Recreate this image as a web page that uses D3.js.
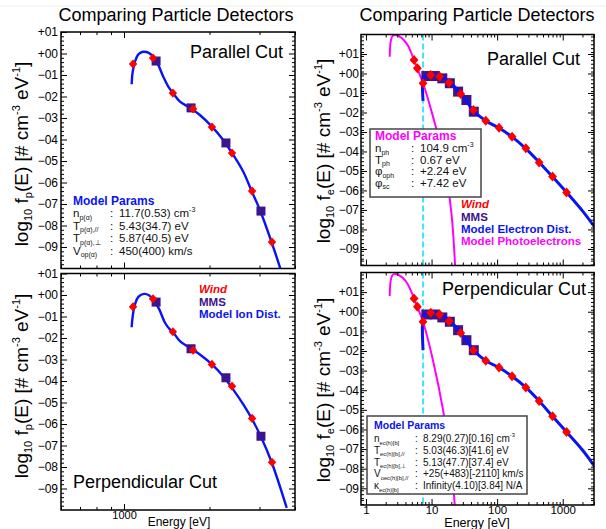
<!DOCTYPE html>
<html>
<head>
<meta charset="utf-8">
<script src="https://cdn.jsdelivr.net/npm/d3@7"></script>
<style>
  body { margin: 0; background: #fff; }
  svg { font-family: "Liberation Sans", Arial, Helvetica, sans-serif; }
</style>
</head>
<body>
<svg id="chart" width="606" height="529"></svg>
<script>
// ---- data (energies in eV, values are log10 f(E)) ----
var yLabelsIon = ["+01","+00","\u221201","\u221202","\u221203","\u221204","\u221205","\u221206","\u221207","\u221208","\u221209"];
var yMajorIon = [1,0,-1,-2,-3,-4,-5,-6,-7,-8,-9];
var yLabelsElec = ["+01","+00","\u221201","\u221202","\u221203","\u221204","\u221205","\u221206","\u221207","\u221208","\u221209"];
var yMajorElec = [1,0,-1,-2,-3,-4,-5,-6,-7,-8,-9];
var xTicksIon = [1000];
var xTickLabelsIon = ["1000"];
var xMinorIon = [600,700,800,900,2000,3000,4000];
var xTicksElec = [1,10,100,1000];
var xTickLabelsElec = ["1","10","100","1000"];
var xMinorElec = [2,3,4,5,6,7,8,9,20,30,40,50,60,70,80,90,200,300,400,500,600,700,800,900,2000,3000];

// ions
var windIonE = [1076,1265,1486,1750,2040,2400,2825,3320];
var windIonPar = [-0.49,-0.21,-1.84,-2.58,-3.42,-4.63,-6.40,-8.77];
var windIonPerp = [-0.55,-0.18,-1.71,-2.57,-3.23,-4.24,-5.74,-7.78];
var mmsIonE = [1297,1722,2285,3035];
var mmsIonPar = [-0.35,-2.53,-4.16,-7.33];
var mmsIonPerp = [-0.33,-2.50,-3.85,-6.57];
var ionCurveParE = [1064,1073,1093,1123,1169,1218,1268,1320,1375,1432,1484,1574,1706,1850,2040,2235,2425,2630,2815,3010,3310,3520,3600];
var ionCurveParV = [-1.43,-0.85,-0.38,-0.04,0.08,0.04,-0.15,-0.53,-1.08,-1.54,-1.82,-2.24,-2.52,-2.86,-3.40,-4.02,-4.72,-5.50,-6.40,-7.28,-8.78,-9.84,-10.25];
var ionCurvePerpE = [1064,1073,1093,1123,1176,1227,1275,1331,1394,1451,1484,1574,1706,1850,2040,2235,2425,2630,2815,3029,3310,3740];
var ionCurvePerpV = [-1.50,-0.99,-0.44,-0.09,0.05,-0.02,-0.24,-0.67,-1.29,-1.60,-1.71,-2.15,-2.46,-2.77,-3.23,-3.78,-4.40,-5.09,-5.74,-6.57,-7.78,-9.90];

// electrons
var windElecE = [5.41,6.08,7.42,9.71,13.3,18.5,27.9,43.5,67.1,107,169,274,437,700,1145];
var windElecPar = [0.69,0.27,-0.50,-0.08,-0.16,-0.47,-1.05,-1.87,-2.42,-2.78,-3.24,-3.84,-4.56,-5.29,-6.11];
var windElecPerp = [0.68,0.25,-0.51,-0.05,-0.14,-0.48,-1.08,-1.96,-2.50,-2.84,-3.29,-3.86,-4.55,-5.33,-6.13];
var mmsElecE = [8.33,11.2,14.6,19.0,25.4,34.0,44.1];
var mmsElecPar = [-0.13,-0.13,-0.25,-0.50,-0.93,-1.36,-1.96];
var mmsElecPerp = [-0.14,-0.14,-0.29,-0.51,-0.94,-1.45,-1.96];
var elecCurveE = [7.42,7.42,8.0,9.0,10,12,15,19,25,33,44,67,107,169,274,437,700,1145,2000,3100];
var elecCurveParV = [-1.40,-0.30,-0.15,-0.08,-0.06,-0.10,-0.22,-0.45,-0.85,-1.35,-1.92,-2.42,-2.80,-3.25,-3.85,-4.55,-5.30,-6.10,-7.05,-7.90];
var elecCurvePerpV = [-1.96,-0.33,-0.12,-0.05,-0.04,-0.08,-0.20,-0.47,-0.88,-1.40,-1.96,-2.50,-2.84,-3.29,-3.86,-4.55,-5.33,-6.13,-7.05,-7.91];
var photoE = [2.30,2.33,2.40,2.55,2.75,3.0,3.3,3.67,4.38,5.41,6.08,7.42,10.5,15.0,20.1,22.6,23.2];
var photoParV = [0.86,1.30,1.70,1.93,1.98,1.95,1.88,1.76,1.42,0.69,0.25,-0.50,-2.20,-4.27,-7.17,-9.56,-10.40];
var photoPerpV = [0.80,1.25,1.65,1.88,1.93,1.90,1.83,1.72,1.38,0.68,0.25,-0.51,-2.47,-5.02,-7.91,-9.87,-10.50];
var scPotential = 7.42;

// parameter boxes
var ionParamSym = ["n","T","T","V"];
var ionParamSub = ["p(\u03b1)","p(\u03b1),//","p(\u03b1),\u22a5","op(\u03b1)"];
var ionParamVal = ["11.7(0.53) cm","5.43(34.7) eV","5.87(40.5) eV","450(400) km/s"];
var ionParamSup = ["-3","","",""];
var photoParamSym = ["n","T","\u03c6","\u03c6"];
var photoParamSub = ["ph","ph","oph","sc"];
var photoParamVal = ["104.9 cm","0.67 eV","+2.24 eV","+7.42 eV"];
var photoParamSup = ["-3","","",""];
var elecParamSym = ["n","T","T","V","\u03ba"];
var elecParamSub = ["ec(h)[b]","ec(h)[b],//","ec(h)[b],\u22a5","oec(h)[b],//","ec(h)[b]"];
var elecParamVal = ["8.29(0.27)[0.16] cm","5.03(46.3)[41.6] eV","5.13(47.7)[37.4] eV","+25(+483)[-2110] km/s","Infinity(4.10)[3.84] N/A"];
var elecParamSup = ["-3","","","",""];

// ---- drawing ----
var svg = d3.select("#chart");
var RED = "#ff0000", MMS = "#3c148e", BLUE = "#0a14f0", MAG = "#ff00ff", CYAN = "#3fe6f5";
var clipId = 0;

svg.append("line").attr("x1",0).attr("x2",606).attr("y1",6).attr("y2",6)
  .attr("stroke","#ececec").attr("stroke-width",1);

function range(a, b, s) {
  var out = [];
  for (var v = a; v <= b + 1e-9; v += s) {
    var r = Math.round(v * 10) / 10;
    if (Math.abs(r - Math.round(r)) > 1e-6) out.push(r);
  }
  return out;
}

function makePanel(p) {
  var x = d3.scaleLog().domain(p.xDomain).range([p.x0, p.x1]);
  var y = d3.scaleLinear().domain(p.yDomain).range([p.y1, p.y0]);
  var g = svg.append("g");
  var id = "clip" + (clipId++);
  g.append("clipPath").attr("id", id).append("rect")
    .attr("x", p.x0).attr("y", p.y0).attr("width", p.x1 - p.x0).attr("height", p.y1 - p.y0);
  var plot = g.append("g").attr("clip-path", "url(#" + id + ")");
  return {x: x, y: y, g: g, plot: plot, p: p};
}

function styleAxis(a, fs) {
  a.select(".domain").remove();
  a.selectAll("line").attr("stroke", "#000").attr("stroke-width", 1);
  a.selectAll("text").attr("font-size", fs).attr("fill", "#000")
    .attr("font-family", "Liberation Sans, Arial, sans-serif");
}

function drawAxes(P, opt) {
  var p = P.p, x = P.x, y = P.y, g = P.g;
  var yMinor = range(p.yDomain[0], p.yDomain[1], 0.2);
  // left
  g.append("g").attr("transform", "translate(" + p.x0 + ",0)")
    .call(d3.axisLeft(y).tickValues(opt.yMajor).tickSize(-6).tickPadding(opt.yPad)
      .tickFormat(function(d){ return opt.yLabels[opt.yMajor.indexOf(d)]; }))
    .call(function(a){ styleAxis(a, 12); });
  g.append("g").attr("transform", "translate(" + p.x0 + ",0)")
    .call(d3.axisLeft(y).tickValues(yMinor).tickSize(-3).tickFormat(""))
    .call(function(a){ styleAxis(a, 12); });
  // right
  g.append("g").attr("transform", "translate(" + p.x1 + ",0)")
    .call(d3.axisRight(y).tickValues(opt.yMajor).tickSize(-6).tickFormat(""))
    .call(function(a){ styleAxis(a, 12); });
  g.append("g").attr("transform", "translate(" + p.x1 + ",0)")
    .call(d3.axisRight(y).tickValues(yMinor).tickSize(-3).tickFormat(""))
    .call(function(a){ styleAxis(a, 12); });
  // bottom
  g.append("g").attr("transform", "translate(0," + p.y1 + ")")
    .call(d3.axisBottom(x).tickValues(opt.xMajor).tickSize(-6).tickPadding(opt.xPad)
      .tickFormat(function(d){ return opt.showX ? opt.xLabels[opt.xMajor.indexOf(d)] : ""; }))
    .call(function(a){ styleAxis(a, opt.xFont); });
  g.append("g").attr("transform", "translate(0," + p.y1 + ")")
    .call(d3.axisBottom(x).tickValues(opt.xMinor).tickSize(-3).tickFormat(""))
    .call(function(a){ styleAxis(a, 12); });
  // top
  g.append("g").attr("transform", "translate(0," + p.y0 + ")")
    .call(d3.axisTop(x).tickValues(opt.xMajor).tickSize(-6).tickFormat(""))
    .call(function(a){ styleAxis(a, 12); });
  g.append("g").attr("transform", "translate(0," + p.y0 + ")")
    .call(d3.axisTop(x).tickValues(opt.xMinor).tickSize(-3).tickFormat(""))
    .call(function(a){ styleAxis(a, 12); });
  g.append("rect").attr("x", p.x0).attr("y", p.y0)
    .attr("width", p.x1 - p.x0).attr("height", p.y1 - p.y0)
    .attr("fill", "none").attr("stroke", "#000").attr("stroke-width", 1.5);
}

function drawCurve(P, es, vs, color, width) {
  var line = d3.line().x(function(d){ return P.x(d[0]); }).y(function(d){ return P.y(d[1]); })
    .curve(d3.curveCatmullRom.alpha(0.5));
  P.plot.append("path").datum(d3.zip(es, vs)).attr("d", line)
    .attr("fill", "none").attr("stroke", color).attr("stroke-width", width)
    .attr("stroke-linejoin", "round").attr("stroke-linecap", "butt");
}

function drawSquares(P, es, vs, s) {
  P.plot.selectAll(null).data(d3.zip(es, vs)).join("rect")
    .attr("x", function(d){ return P.x(d[0]) - s / 2; })
    .attr("y", function(d){ return P.y(d[1]) - s / 2; })
    .attr("width", s).attr("height", s).attr("fill", MMS);
}

function drawDiamonds(P, es, vs, w, h) {
  P.plot.selectAll(null).data(d3.zip(es, vs)).join("path")
    .attr("d", "M0," + (-h) + "L" + w + ",0L0," + h + "L" + (-w) + ",0Z")
    .attr("transform", function(d){ return "translate(" + P.x(d[0]) + "," + P.y(d[1]) + ")"; })
    .attr("fill", RED);
}

function yTitle(cx, cy, sub) {
  var t = svg.append("text").attr("transform", "translate(" + cx + "," + cy + ") rotate(-90)")
    .attr("text-anchor", "middle").attr("font-size", 19).attr("fill", "#000");
  t.append("tspan").text("log");
  t.append("tspan").attr("font-size", 11).attr("dy", 4).text("10");
  t.append("tspan").attr("dy", -4).text(" f");
  t.append("tspan").attr("font-size", 11).attr("dy", 4).text(sub);
  t.append("tspan").attr("dy", -4).text("(E) [# cm");
  t.append("tspan").attr("font-size", 11).attr("dy", -8).text("-3");
  t.append("tspan").attr("dy", 8).text(" eV");
  t.append("tspan").attr("font-size", 11).attr("dy", -8).text("-1");
  t.append("tspan").attr("dy", 8).text("]");
}

function label(x, y, txt, o) {
  o = o || {};
  return svg.append("text").attr("x", x).attr("y", y).text(txt)
    .attr("font-size", o.fs || 12).attr("fill", o.fill || "#000")
    .attr("font-weight", o.bold ? "bold" : "normal")
    .attr("font-style", o.italic ? "italic" : "normal")
    .attr("text-anchor", o.anchor || "start");
}

function paramRows(sym, sub, val, sup, o) {
  for (var i = 0; i < sym.length; i++) {
    var yy = o.y + i * o.dy;
    var t = svg.append("text").attr("x", o.x).attr("y", yy).attr("font-size", o.fs).attr("fill", "#111");
    t.append("tspan").text(sym[i]);
    t.append("tspan").attr("font-size", o.subFs).attr("dy", 2.5).text(sub[i]);
    label(o.colon, yy, ":", {fs: o.fs, fill: "#111"});
    var v = svg.append("text").attr("x", o.val).attr("y", yy).attr("font-size", o.fs).attr("fill", "#111");
    v.append("tspan").text(val[i]);
    if (sup[i]) v.append("tspan").attr("font-size", o.subFs).attr("dy", -5).text(sup[i]);
  }
}

// ---- panels ----
var ionOpt = {yMajor: yMajorIon, yLabels: yLabelsIon, yPad: 3, xMajor: xTicksIon, xLabels: xTickLabelsIon,
  xMinor: xMinorIon, xPad: 1.5, xFont: 11};
var elecOpt = {yMajor: yMajorElec, yLabels: yLabelsElec, yPad: 2, xMajor: xTicksElec, xLabels: xTickLabelsElec,
  xMinor: xMinorElec, xPad: 1, xFont: 11.5};

// top-left: ions parallel
var TL = makePanel({x0: 61, x1: 295, y0: 32, y1: 268.5, xDomain: [600, 4000], yDomain: [-10, 1]});
drawCurve(TL, ionCurveParE, ionCurveParV, BLUE, 2.4);
drawSquares(TL, mmsIonE, mmsIonPar, 9);
drawDiamonds(TL, windIonE, windIonPar, 4.2, 4.6);
drawAxes(TL, Object.assign({}, ionOpt, {showX: false}));

// bottom-left: ions perpendicular
var BL = makePanel({x0: 61, x1: 295, y0: 273.5, y1: 510, xDomain: [600, 4000], yDomain: [-10, 1]});
drawCurve(BL, ionCurvePerpE, ionCurvePerpV, BLUE, 2.4);
drawSquares(BL, mmsIonE, mmsIonPerp, 9);
drawDiamonds(BL, windIonE, windIonPerp, 4.2, 4.6);
drawAxes(BL, Object.assign({}, ionOpt, {showX: true}));

// top-right: electrons parallel
var TR = makePanel({x0: 361, x1: 594, y0: 34.5, y1: 265.5, xDomain: [0.84, 3000], yDomain: [-9.85, 2]});
TR.plot.append("line").attr("x1", TR.x(scPotential)).attr("x2", TR.x(scPotential))
  .attr("y1", TR.p.y0).attr("y2", TR.p.y1).attr("stroke", CYAN).attr("stroke-width", 2)
  .attr("stroke-dasharray", "6,3");
drawCurve(TR, photoE, photoParV, MAG, 2);
drawSquares(TR, mmsElecE, mmsElecPar, 10);
drawCurve(TR, elecCurveE, elecCurveParV, BLUE, 3);
drawDiamonds(TR, windElecE, windElecPar, 4.4, 5);
drawAxes(TR, Object.assign({}, elecOpt, {showX: false}));

// bottom-right: electrons perpendicular
var BR = makePanel({x0: 361, x1: 594, y0: 272.5, y1: 505, xDomain: [0.84, 3000], yDomain: [-9.85, 2]});
BR.plot.append("line").attr("x1", BR.x(scPotential)).attr("x2", BR.x(scPotential))
  .attr("y1", BR.p.y0).attr("y2", BR.p.y1).attr("stroke", CYAN).attr("stroke-width", 2)
  .attr("stroke-dasharray", "6,3");
drawCurve(BR, photoE, photoPerpV, MAG, 2);
drawSquares(BR, mmsElecE, mmsElecPerp, 10);
drawCurve(BR, elecCurveE, elecCurvePerpV, BLUE, 3);
drawDiamonds(BR, windElecE, windElecPerp, 4.4, 5);
drawAxes(BR, Object.assign({}, elecOpt, {showX: true}));

// ---- text ----
label(176, 21, "Comparing Particle Detectors", {fs: 18, anchor: "middle"});
label(477, 21, "Comparing Particle Detectors", {fs: 18, anchor: "middle"});
label(283, 58, "Parallel Cut", {fs: 18, anchor: "end"});
label(580, 65, "Parallel Cut", {fs: 18, anchor: "end"});
label(73, 488, "Perpendicular Cut", {fs: 18});
label(586, 295, "Perpendicular Cut", {fs: 18, anchor: "end"});

yTitle(28, 154, "p");
yTitle(28, 386, "p");
yTitle(330, 151, "e");
yTitle(330, 390, "e");

label(179, 526, "Energy [eV]", {fs: 12, anchor: "middle"});
label(477, 527, "Energy [eV]", {fs: 12.5, anchor: "middle"});

// ion params (top-left)
label(73, 205, "Model Params", {fs: 12, bold: true, fill: BLUE});
paramRows(ionParamSym, ionParamSub, ionParamVal, ionParamSup,
  {x: 73, y: 217, dy: 12.5, fs: 11.5, subFs: 7, colon: 110, val: 119});

// ion legend (bottom-left)
label(199, 293, "Wind", {fs: 11.5, bold: true, italic: true, fill: RED});
label(199, 306, "MMS", {fs: 11.5, bold: true, fill: MMS});
label(199, 318, "Model Ion Dist.", {fs: 11.5, bold: true, fill: BLUE});

// photoelectron params box (top-right)
svg.append("rect").attr("x", 370).attr("y", 129).attr("width", 111).attr("height", 68)
  .attr("fill", "#fff").attr("stroke", "#444").attr("stroke-width", 1.5);
label(375, 140, "Model Params", {fs: 12, bold: true, fill: MAG});
paramRows(photoParamSym, photoParamSub, photoParamVal, photoParamSup,
  {x: 375, y: 152, dy: 11.5, fs: 11.5, subFs: 7, colon: 411, val: 420});

// electron legend (top-right)
label(461, 208, "Wind", {fs: 11.5, bold: true, italic: true, fill: RED});
label(461, 221, "MMS", {fs: 11.5, bold: true, fill: MMS});
label(461, 233, "Model Electron Dist.", {fs: 11.5, bold: true, fill: BLUE});
label(461, 245, "Model Photoelectrons", {fs: 11.5, bold: true, fill: MAG});

// electron params box (bottom-right)
svg.append("rect").attr("x", 367).attr("y", 416).attr("width", 160).attr("height", 78)
  .attr("fill", "#fff").attr("stroke", "#444").attr("stroke-width", 1.5);
label(374, 429, "Model Params", {fs: 10.5, bold: true, fill: BLUE});
paramRows(elecParamSym, elecParamSub, elecParamVal, elecParamSup,
  {x: 374, y: 442, dy: 11.8, fs: 10, subFs: 5.8, colon: 415, val: 423});
</script>
</body>
</html>
